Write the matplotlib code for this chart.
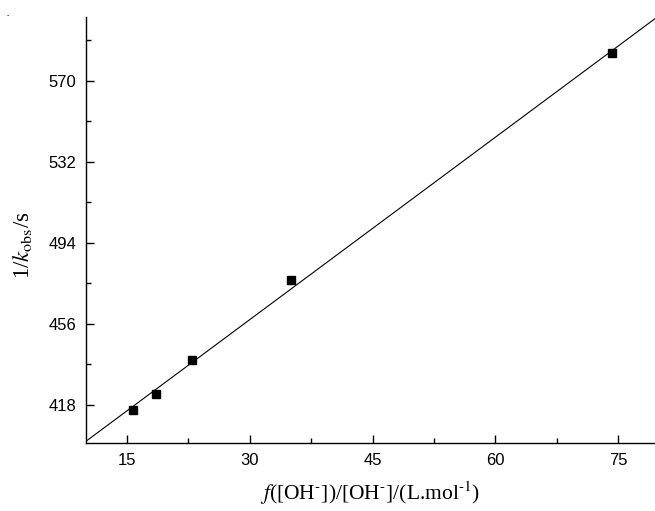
import numpy as np
import matplotlib
matplotlib.use("Agg")
import matplotlib.pyplot as plt
from matplotlib.ticker import FixedLocator

# data
x_vals = [15.7, 18.6, 22.9, 35.1, 74.3]
y_vals = [415.4, 423.0, 438.9, 476.7, 582.9]

x_ticks = [15, 30, 45, 60, 75]
x_minor = [22.5, 37.5, 52.5, 67.5]
y_ticks = [418, 456, 494, 532, 570]
y_minor = [437, 475, 513, 551, 589]

plt.rcParams['font.family'] = ['Liberation Sans', 'DejaVu Sans']
plt.rcParams['mathtext.fontset'] = 'stix'

fig = plt.figure(figsize=(6.55, 5.11), dpi=100)
ax = fig.add_axes([86 / 655, 1 - 443 / 511, 573 / 655, 426 / 511])

# linear fit through the points
slope, intercept = np.polyfit(x_vals, y_vals, 1)
xl = np.array([0, 100])
ax.plot(xl, slope * xl + intercept, color='black', linewidth=0.8)
ax.plot(x_vals, y_vals, 's', color='black', markersize=5.2, zorder=3)

ax.set_xlim(10, 80)
ax.set_ylim(400, 600)
ax.set_xticks(x_ticks)
ax.set_yticks(y_ticks)
ax.xaxis.set_minor_locator(FixedLocator(x_minor))
ax.yaxis.set_minor_locator(FixedLocator(y_minor))

ax.spines['top'].set_visible(False)
ax.spines['right'].set_visible(False)
for s in ['left', 'bottom']:
    ax.spines[s].set_linewidth(1.0)
ax.tick_params(which='major', direction='in', length=6, width=1.0, labelsize=12, pad=7)
ax.tick_params(which='minor', direction='in', length=3.5, width=1.0)

fig.text(370 / 655, 1 - 493 / 511,
         r'$f$([OH$^{\text{-}}$])/[OH$^{\text{-}}$]/(L.mol$^{\text{-1}}$)',
         ha='center', va='center', fontsize=15.5, family='Liberation Serif')
fig.text(22 / 655, 1 - 245 / 511, r'1/$k_{\mathrm{obs}}$/s', rotation=90,
         ha='center', va='center', fontsize=16.5, family='Liberation Serif')
fig.text(8 / 655, 1 - 16 / 511, '-', ha='center', va='center', fontsize=5)

fig.savefig('out.png', dpi=100)
